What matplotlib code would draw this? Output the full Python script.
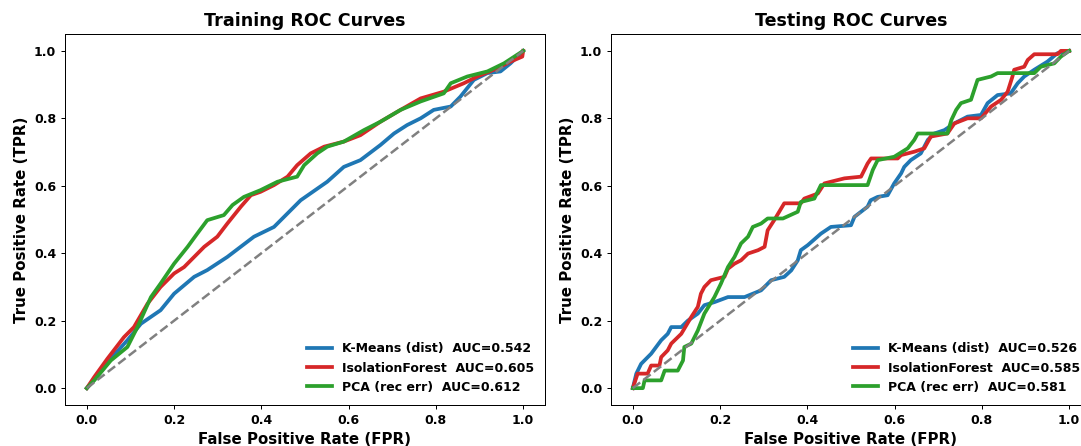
import matplotlib
matplotlib.use("Agg")
import matplotlib.pyplot as plt
import numpy as np

# ---------------- Data ----------------
train_km_fpr = [0, 0.03, 0.06, 0.093, 0.124, 0.169, 0.2, 0.246, 0.276, 0.322, 0.383, 0.429, 0.49, 0.551, 0.589, 0.627, 0.673, 0.704, 0.734, 0.765, 0.795, 0.834, 0.856, 0.887, 0.918, 0.948, 0.971, 1.0]
train_km_tpr = [0, 0.045, 0.095, 0.142, 0.191, 0.231, 0.28, 0.33, 0.35, 0.389, 0.449, 0.478, 0.557, 0.612, 0.656, 0.676, 0.721, 0.755, 0.78, 0.8, 0.825, 0.835, 0.864, 0.914, 0.934, 0.939, 0.963, 1.0]

train_if_fpr = [0, 0.017, 0.047, 0.085, 0.108, 0.139, 0.169, 0.2, 0.223, 0.246, 0.269, 0.299, 0.322, 0.353, 0.376, 0.398, 0.429, 0.46, 0.482, 0.513, 0.544, 0.589, 0.627, 0.673, 0.719, 0.765, 0.818, 0.864, 0.895, 0.933, 0.971, 0.998, 1.0]
train_if_tpr = [0, 0.033, 0.087, 0.151, 0.181, 0.25, 0.3, 0.34, 0.359, 0.389, 0.419, 0.449, 0.488, 0.538, 0.572, 0.582, 0.602, 0.627, 0.661, 0.696, 0.716, 0.731, 0.75, 0.79, 0.825, 0.859, 0.879, 0.904, 0.924, 0.944, 0.968, 0.983, 1.0]

train_pca_fpr = [0, 0.017, 0.055, 0.093, 0.116, 0.147, 0.169, 0.2, 0.231, 0.253, 0.276, 0.314, 0.334, 0.36, 0.398, 0.437, 0.482, 0.498, 0.528, 0.551, 0.589, 0.635, 0.673, 0.719, 0.765, 0.818, 0.834, 0.872, 0.918, 0.956, 1.0]
train_pca_tpr = [0, 0.023, 0.082, 0.122, 0.181, 0.27, 0.31, 0.369, 0.419, 0.458, 0.498, 0.513, 0.543, 0.567, 0.587, 0.612, 0.627, 0.661, 0.696, 0.716, 0.731, 0.765, 0.79, 0.825, 0.85, 0.874, 0.904, 0.924, 0.939, 0.963, 1.0]

test_km_fpr = [0, 0.008, 0.019, 0.042, 0.065, 0.08, 0.088, 0.111, 0.126, 0.149, 0.164, 0.187, 0.218, 0.256, 0.294, 0.317, 0.347, 0.363, 0.378, 0.385, 0.401, 0.431, 0.454, 0.5, 0.508, 0.538, 0.545, 0.561, 0.584, 0.599, 0.615, 0.622, 0.637, 0.66, 0.676, 0.691, 0.714, 0.737, 0.767, 0.798, 0.813, 0.836, 0.866, 0.882, 0.897, 0.92, 0.95, 0.973, 1.0]
test_km_tpr = [0, 0.043, 0.072, 0.102, 0.142, 0.161, 0.181, 0.181, 0.2, 0.221, 0.246, 0.255, 0.27, 0.27, 0.29, 0.32, 0.33, 0.349, 0.379, 0.409, 0.424, 0.458, 0.478, 0.483, 0.508, 0.538, 0.557, 0.567, 0.572, 0.607, 0.637, 0.656, 0.676, 0.696, 0.736, 0.755, 0.765, 0.785, 0.805, 0.81, 0.845, 0.869, 0.874, 0.904, 0.924, 0.944, 0.968, 0.993, 1.0]

test_if_fpr = [0, 0.011, 0.034, 0.042, 0.061, 0.065, 0.08, 0.088, 0.111, 0.134, 0.149, 0.156, 0.164, 0.179, 0.21, 0.218, 0.233, 0.248, 0.264, 0.287, 0.302, 0.309, 0.324, 0.347, 0.385, 0.393, 0.424, 0.439, 0.454, 0.485, 0.523, 0.538, 0.546, 0.607, 0.615, 0.645, 0.668, 0.683, 0.721, 0.737, 0.767, 0.798, 0.821, 0.844, 0.859, 0.87, 0.874, 0.897, 0.905, 0.92, 0.973, 0.981, 1.0]
test_if_tpr = [0, 0.043, 0.043, 0.067, 0.067, 0.092, 0.112, 0.132, 0.161, 0.211, 0.241, 0.28, 0.3, 0.32, 0.33, 0.354, 0.369, 0.379, 0.399, 0.409, 0.419, 0.468, 0.498, 0.548, 0.548, 0.562, 0.577, 0.607, 0.612, 0.622, 0.627, 0.666, 0.681, 0.681, 0.691, 0.701, 0.711, 0.746, 0.755, 0.785, 0.8, 0.8, 0.835, 0.855, 0.879, 0.924, 0.944, 0.953, 0.973, 0.99, 0.99, 1.0, 1.0]

test_pca_fpr = [0, 0.023, 0.027, 0.065, 0.073, 0.103, 0.115, 0.118, 0.134, 0.149, 0.164, 0.187, 0.202, 0.218, 0.233, 0.248, 0.264, 0.275, 0.294, 0.309, 0.344, 0.378, 0.385, 0.416, 0.431, 0.538, 0.55, 0.561, 0.599, 0.63, 0.645, 0.653, 0.721, 0.73, 0.741, 0.752, 0.775, 0.79, 0.821, 0.836, 0.92, 0.935, 0.966, 0.981, 1.0]
test_pca_tpr = [0, 0, 0.023, 0.023, 0.052, 0.052, 0.082, 0.122, 0.132, 0.171, 0.221, 0.27, 0.31, 0.359, 0.389, 0.429, 0.449, 0.478, 0.488, 0.503, 0.503, 0.523, 0.552, 0.562, 0.602, 0.602, 0.647, 0.676, 0.686, 0.711, 0.736, 0.755, 0.755, 0.795, 0.825, 0.845, 0.855, 0.914, 0.924, 0.934, 0.934, 0.953, 0.963, 0.983, 1.0]

labels = ["K-Means (dist)", "IsolationForest", "PCA (rec err)"]
train_auc = [0.542, 0.605, 0.612]
test_auc = [0.526, 0.585, 0.581]
colors = ["#1f77b4", "#d62728", "#2ca02c"]

# ---------------- Plot ----------------
plt.rcParams['font.family'] = 'DejaVu Sans'
plt.rcParams['font.weight'] = 'bold'

DPI = 90
W, H = 1081, 446
fig = plt.figure(figsize=(W / DPI, H / DPI), dpi=DPI)
ax1 = fig.add_axes([65 / W, 1 - 405 / H, 480 / W, 371 / H])
ax2 = fig.add_axes([611 / W, 1 - 405 / H, 480 / W, 371 / H])

panels = [
    (ax1, "Training ROC Curves",
     [(train_km_fpr, train_km_tpr), (train_if_fpr, train_if_tpr), (train_pca_fpr, train_pca_tpr)], train_auc),
    (ax2, "Testing ROC Curves",
     [(test_km_fpr, test_km_tpr), (test_if_fpr, test_if_tpr), (test_pca_fpr, test_pca_tpr)], test_auc),
]

for ax, title, curves, aucs in panels:
    for (f, t), lab, auc, c in zip(curves, labels, aucs, colors):
        ax.plot(f, t, color=c, lw=3, label=f"{lab}  AUC={auc:.3f}")
    ax.plot([0, 1], [0, 1], ls='--', color='gray', lw=2)
    ax.set_title(title, fontsize=14, fontweight='bold')
    ax.set_xlabel("False Positive Rate (FPR)", fontsize=12, fontweight='bold')
    ax.set_ylabel("True Positive Rate (TPR)", fontsize=12, fontweight='bold')
    ax.set_xticks([0, 0.2, 0.4, 0.6, 0.8, 1.0])
    ax.set_yticks([0, 0.2, 0.4, 0.6, 0.8, 1.0])
    for lbl in ax.get_xticklabels() + ax.get_yticklabels():
        lbl.set_fontweight('bold')
        lbl.set_fontsize(10)
    ax.legend(loc='lower right', frameon=False, prop={'weight': 'bold', 'size': 10})

fig.savefig("out.png", dpi=DPI)
